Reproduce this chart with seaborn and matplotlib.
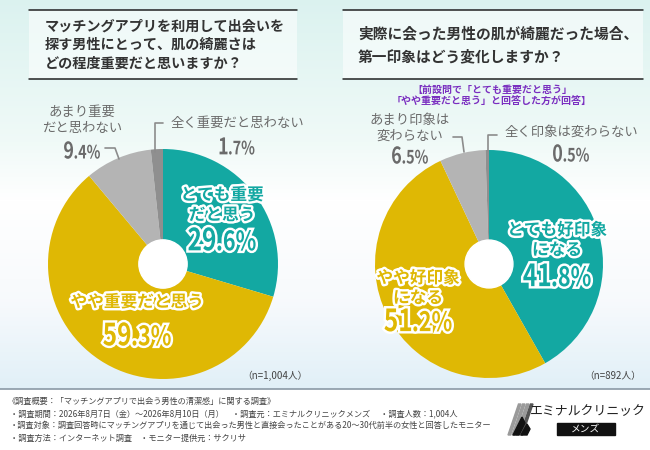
import numpy as np
import matplotlib
matplotlib.use('Agg')
from matplotlib import pyplot as plt
from matplotlib import patheffects as pe
from matplotlib.patches import Rectangle, Polygon, Circle, PathPatch
from matplotlib.textpath import TextPath
from matplotlib.font_manager import FontProperties
from matplotlib.path import Path
from matplotlib.transforms import Affine2D
import seaborn as sns

# --- data ---
q1_labels = ['とても重要\nだと思う', 'やや重要だと思う', 'あまり重要\nだと思わない', '全く重要だと思わない']
q1_values = [29.6, 59.3, 9.4, 1.7]
q1_n = '（n=1,004人）'
q2_labels = ['とても好印象\nになる', 'やや好印象\nになる', 'あまり印象は\n変わらない', '全く印象は変わらない']
q2_values = [41.8, 51.2, 6.5, 0.5]
q2_n = '（n=892人）'
q1_title = 'マッチングアプリを利用して出会いを\n探す男性にとって、肌の綺麗さは\nどの程度重要だと思いますか？'
q2_title = '実際に会った男性の肌が綺麗だった場合、\n第一印象はどう変化しますか？'
q2_note = '【前設問で「とても重要だと思う」\n「やや重要だと思う」と回答した方が回答】'
footer_lines = [
    '《調査概要：「マッチングアプリで出会う男性の清潔感」に関する調査》',
    '・調査期間：2026年8月7日（金）～2026年8月10日（月）　・調査元：エミナルクリニックメンズ　 ・調査人数：1,004人',
    '・調査対象：調査回答時にマッチングアプリを通じて出会った男性と直接会ったことがある20～30代前半の女性と回答したモニター',
    '・調査方法：インターネット調査　・モニター提供元：サクリサ',
]

sns.set_theme(style='white')
plt.rcParams['font.family'] = ['Noto Sans CJK JP', 'DejaVu Sans']
palette = sns.color_palette(['#13A8A2', '#DFB804', '#B4B4B4', '#8F8F8F'])
gray_txt = '#6B6B6B'
num_prop = FontProperties(family='Noto Sans CJK JP', weight='bold')
W, H = 650, 450
PX = 100 / 72  # pixels per point

fig = plt.figure(figsize=(6.5, 4.5), dpi=100)

# background layer (pixel coordinates)
bg = fig.add_axes([0, 0, 1, 1], zorder=0)
bg.set_xlim(0, W)
bg.set_ylim(H, 0)
bg.axis('off')
ys = np.arange(H)
stops_y = [0, 140, 200, 300, 389]
stops_c = np.array([[0.86, 0.95, 0.94], [0.94, 0.98, 0.97], [1, 1, 1],
                    [0.97, 0.98, 0.99], [0.88, 0.94, 0.97]])
grad = np.stack([np.interp(ys, stops_y, stops_c[:, k]) for k in range(3)], axis=1)
img = np.repeat(grad[:, None, :], W, axis=1)
bg.imshow(img, extent=(0, W, H, 0), aspect='auto', zorder=0)
bg.add_patch(Rectangle((0, 389), W, H - 389, color='white', zorder=1))
bg.plot([0, W], [389, 389], color='#8A9AA6', lw=1.2, zorder=2)

# title boxes
for x0, x1 in [(29, 297), (343, 643)]:
    bg.add_patch(Rectangle((x0, 10), x1 - x0, 69, facecolor='white', alpha=0.55,
                           edgecolor='none', zorder=2))
    bg.plot([x0, x1], [10, 10], color='#222222', lw=1.1, zorder=3)
    bg.plot([x0, x1], [79, 79], color='#222222', lw=1.1, zorder=3)


def draw_pie(cx, cy, r, values):
    ax = fig.add_axes([(cx - r) / W, 1 - (cy + r) / H, 2 * r / W, 2 * r / H], zorder=1)
    ax.pie(values, colors=palette, startangle=90, counterclock=False,
           wedgeprops=dict(linewidth=0))
    ax.add_patch(Circle((0, 0), 0.21, color='white', zorder=3))
    ax.set_xlim(-1, 1)
    ax.set_ylim(-1, 1)
    ax.axis('off')
    return ax


draw_pie(163, 264, 115, q1_values)
draw_pie(489, 264, 114, q2_values)

# text / leader layer
top = fig.add_axes([0, 0, 1, 1], zorder=5)
top.set_xlim(0, W)
top.set_ylim(H, 0)
top.axis('off')
top.patch.set_alpha(0)

top.text(45, 45, q1_title, fontsize=10.2, fontweight='bold', color='#333333',
         va='center', ha='left', linespacing=1.45)
top.text(358, 45, q2_title, fontsize=10.6, fontweight='bold', color='#333333',
         va='center', ha='left', linespacing=1.5)
top.text(492, 96, q2_note, fontsize=7.2, fontweight='bold', color='#7A2FC0',
         ha='center', va='center', linespacing=1.3)


def pct_text(x, y, value, size, color, sx, small, stroke=None):
    # narrow percentage: integer part full size, decimals and % a bit smaller
    s = f'{value:.1f}%'
    ip, dec = s.split('.', 1)
    p1 = TextPath((0, 0), ip, size=size, prop=num_prop)
    p2 = TextPath((p1.get_extents().x1 + size * 0.03, 0), '.' + dec,
                  size=size * small, prop=num_prop)
    path = Path.make_compound_path(p1, p2)
    bb = path.get_extents()
    tr = (Affine2D().translate(-(bb.x0 + bb.x1) / 2, -(bb.y0 + bb.y1) / 2)
          .scale(sx * PX, -PX).translate(x, y))
    patch = PathPatch(tr.transform_path(path), facecolor=color, edgecolor='none')
    if stroke:
        patch.set_path_effects(stroke)
    top.add_patch(patch)


def inner(x, y_lab, y_pct, label, value, color):
    stroke = [pe.withStroke(linewidth=3.5, foreground='white')]
    top.text(x, y_lab, label, fontsize=12, fontweight='bold', color=color,
             ha='center', va='center', linespacing=1.15, path_effects=stroke)
    pct_text(x, y_pct, value, 22, color, 0.8, 0.88, stroke)


def outer(x, y_lab, y_pct, label, value):
    top.text(x, y_lab, label, fontsize=9.6, color=gray_txt, ha='center',
             va='center', linespacing=1.2)
    pct_text(x, y_pct, value, 16.5, gray_txt, 0.78, 0.8)


# left pie labels
inner(222, 205, 239, q1_labels[0], q1_values[0], palette[0])
inner(137, 302, 334, q1_labels[1], q1_values[1], palette[1])
outer(82, 120, 150, q1_labels[2], q1_values[2])
outer(237, 123, 146, q1_labels[3], q1_values[3])
top.plot([105, 115, 119], [148, 148, 159], color='#8C8C8C', lw=1.2)
top.plot([163, 155, 155], [123, 123, 152], color='#8C8C8C', lw=1.2)
top.text(275, 376, q1_n, fontsize=7, color='#444444', ha='center', va='center')

# right pie labels
inner(557, 240, 275, q2_labels[0], q2_values[0], palette[0])
inner(418, 288, 320, q2_labels[1], q2_values[1], palette[1])
outer(410, 128, 155, q2_labels[2], q2_values[2])
outer(571, 132, 153, q2_labels[3], q2_values[3])
top.plot([453, 462, 464], [137, 137, 152], color='#8C8C8C', lw=1.2)
top.plot([497, 488, 488], [135, 135, 151], color='#8C8C8C', lw=1.2)
top.text(613, 376, q2_n, fontsize=7, color='#444444', ha='center', va='center')

# footer
for i, line in enumerate(footer_lines):
    top.text(8 if i == 0 else 10, 401 + i * 12.4, line, fontsize=5.9,
             color='#444444', ha='left', va='center')

# logo
for k in range(4):
    x = 508 + k * 4
    top.add_patch(Polygon([[x, 435], [x + 2.5, 435], [x + 13, 404], [x + 10.5, 404]],
                          color='#9A9A9A' if k < 3 else '#555555'))
top.add_patch(Polygon([[513, 435], [519, 435], [525, 423], [522, 417]], color='#111111'))
top.add_patch(Polygon([[521, 435], [527, 435], [530, 429], [527, 424]], color='#111111'))
top.text(588, 412, 'エミナルクリニック', fontsize=9.3, color='#222222',
         ha='center', va='center')
top.add_patch(Rectangle((557, 423), 58, 12, color='#111111'))
top.text(586, 429, 'メンズ', fontsize=7, color='white', ha='center', va='center')

fig.savefig('out.png', dpi=100)
